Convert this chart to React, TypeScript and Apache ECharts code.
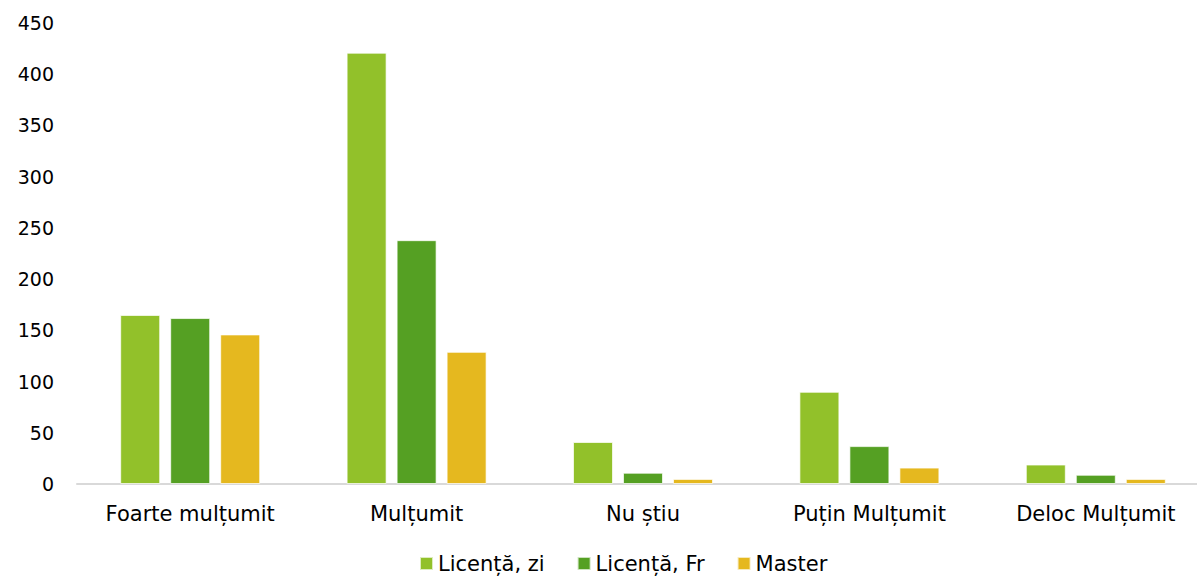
import React, { useEffect, useRef } from "react";
import * as echarts from "echarts";

const categories = ["Foarte mulțumit", "Mulțumit", "Nu știu", "Puțin Mulțumit", "Deloc Mulțumit"];
const seriesNames = ["Licență, zi", "Licență, Fr", "Master"];
const licentaZi = [165, 421, 41, 90, 19];
const licentaFr = [162, 238, 11, 37, 9];
const master = [146, 129, 5, 16, 5];
const colors = ["#92C12A", "#55A023", "#E5B81F"];

const FONT = "'DejaVu Sans', sans-serif";

export default function App() {
  const ref = useRef<HTMLDivElement>(null);
  useEffect(() => {
    document.body.style.margin = "0";
    document.body.style.overflow = "hidden";
    const chart = echarts.init(ref.current!, null, { renderer: "svg" });
    const data = [licentaZi, licentaFr, master];
    chart.setOption({
      animation: false,
      textStyle: { fontFamily: FONT },
      grid: { left: 77, top: 23, right: 0, bottom: 93, containLabel: false },
      legend: {
        data: seriesNames,
        left: 414,
        top: 548,
        icon: "rect",
        itemWidth: 13,
        itemHeight: 13,
        itemGap: 32,
        textStyle: { fontFamily: FONT, fontSize: 21, color: "#000" },
      },
      xAxis: {
        type: "category",
        data: categories,
        axisLine: { lineStyle: { color: "#d9d9d9", width: 2 } },
        axisTick: { show: false },
        axisLabel: { fontFamily: FONT, fontSize: 21, color: "#000", margin: 19, interval: 0 },
      },
      yAxis: {
        type: "value",
        min: 0,
        max: 450,
        interval: 50,
        splitLine: { show: false },
        axisLine: { show: false },
        axisTick: { show: false },
        axisLabel: { fontFamily: FONT, fontSize: 19, color: "#000", margin: 23 },
      },
      series: seriesNames.map((name, i) => ({
        name,
        type: "bar",
        data: data[i],
        barWidth: 40,
        barGap: "25%",
        itemStyle: { color: colors[i], borderColor: "rgba(255,255,255,0.7)", borderWidth: 1 },
      })),
    });
    return () => chart.dispose();
  }, []);
  return <div ref={ref} style={{ position: "absolute", left: 0, top: 0, width: 1209, height: 577 }} />;
}
